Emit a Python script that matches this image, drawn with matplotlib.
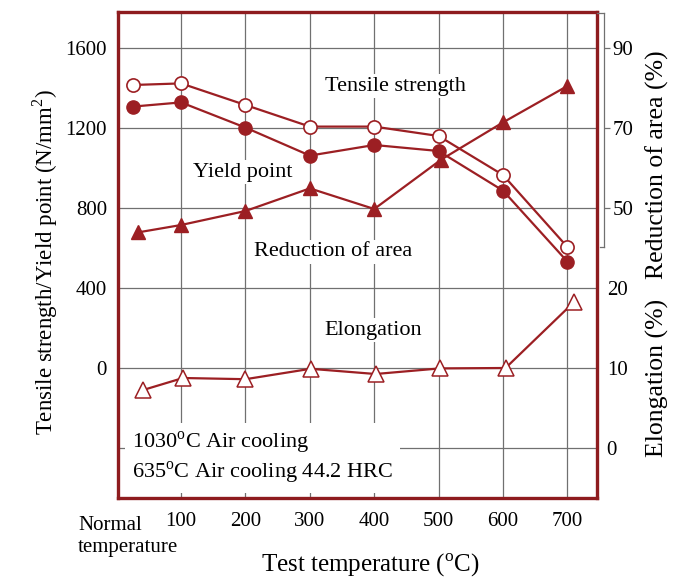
import matplotlib
matplotlib.use("Agg")
import matplotlib.pyplot as plt
import matplotlib.transforms as mtransforms

plt.rcParams['font.family'] = ['Liberation Serif', 'DejaVu Serif']
plt.rcParams['mathtext.fontset'] = 'custom'
plt.rcParams['mathtext.rm'] = 'Liberation Serif'

# ---- data ----
x_strength = [25, 100, 200, 300, 400, 500, 600, 700]
tensile = [1415, 1423, 1315, 1207, 1207, 1160, 965, 605]
yield_pt = [1307, 1328, 1202, 1062, 1115, 1085, 887, 532]
x_reduction = [33, 100, 200, 300, 400, 504, 600, 700]
reduction = [43.9, 45.75, 49.25, 54.9, 49.75, 62.1, 71.4, 80.5]
x_elong = [41, 103, 200, 301, 402, 502, 604, 711]
elongation = [7.25, 8.75, 8.6, 9.9, 9.25, 9.95, 10.0, 18.3]

xtick_vals = [100, 200, 300, 400, 500, 600, 700]
xtick_labels = ['100', '200', '300', '400', '500', '600', '700']
left_ticks = [-400, 0, 400, 800, 1200, 1600]
left_labels = ['', '0', '400', '800', '1200', '1600']
red_ticks = [50, 70, 90]
elong_ticks = [0, 10, 20]

LINE = '#9c1f23'
FRAME = '#8e1c1f'
GRID = '#707070'

fig = plt.figure(figsize=(6.75, 5.85), dpi=100)
ax = fig.add_axes([118/675, 1-498/585, (597-118)/675, (498-12)/585])
ax.set_xlim(2, 746)
ax.set_ylim(-650, 1780)

ax.set_yticks(left_ticks)
ax.set_yticklabels(left_labels)
ax.set_xticks(xtick_vals)
ax.set_xticklabels(xtick_labels)
ax.tick_params(axis='both', length=0, labelsize=15)
ax.tick_params(axis='y', pad=8)
ax.tick_params(axis='x', pad=10)
ax.grid(True, color=GRID, linewidth=0.9)
ax.set_axisbelow(True)
for s in ax.spines.values():
    s.set_color(FRAME)
    s.set_linewidth(2.4)
    s.set_zorder(10)

bx = mtransforms.blended_transform_factory(ax.transData, ax.transAxes)
ax.text(-60, -0.037, 'Normal', transform=bx, ha='left', va='top', fontsize=15)
ax.text(-60, -0.083, 'temperature', transform=bx, ha='left', va='top', fontsize=15)

ax.plot(x_strength, tensile, color=LINE, lw=1.6, marker='o', ms=9.5, mfc='white', mec=LINE, mew=1.2, zorder=5, clip_on=False)
ax.plot(x_strength, yield_pt, color=LINE, lw=1.6, marker='o', ms=9.5, mfc=LINE, mec=LINE, zorder=5, clip_on=False)

bb = dict(facecolor='white', edgecolor='none', pad=2)
ax.text(433, 1410, 'Tensile strength', ha='center', va='center', fontsize=16, bbox=bb, zorder=3)
ax.text(195, 980, 'Yield point', ha='center', va='center', fontsize=16, bbox=bb, zorder=3)
ax.text(336, 580, 'Reduction of area', ha='center', va='center', fontsize=16, bbox=bb, zorder=3)
ax.text(399, 190, 'Elongation', ha='center', va='center', fontsize=16, bbox=bb, zorder=3)
ax.text(24, -450, '1030$^{\\mathrm{o}}$C Air cooling\n635$^{\\mathrm{o}}$C Air cooling 44.2 HRC', ha='left', va='center',
        fontsize=16, linespacing=1.2, bbox=dict(facecolor='white', edgecolor='none', pad=5), zorder=3)

ax.set_xlabel('Test temperature ($^{\\mathrm{o}}$C)', fontsize=18)
ax.xaxis.set_label_coords(0.526, -0.112)

fig.text(45/675, 1-262/585, 'Tensile strength/Yield point (N/mm$^2$)', rotation=90, ha='center', va='center', fontsize=16.5)

# reduction of area axis
ax2 = ax.twinx()
ax2.set_ylim(-22.5, 99)
ax2.set_xlim(ax.get_xlim())
for k in ['top', 'left', 'bottom']:
    ax2.spines[k].set_visible(False)
ax2.spines['right'].set_position(('outward', 5))
ax2.spines['right'].set_bounds(40.25, 98.75)
ax2.spines['right'].set_color(GRID)
ax2.spines['right'].set_linewidth(0.9)
ax2.set_yticks(red_ticks)
ax2.tick_params(axis='y', length=4, width=0.9, color=GRID, labelsize=15, pad=2)
ax2.plot(x_reduction, reduction, color=LINE, lw=1.6, marker='^', ms=10.5, mfc=LINE, mec=LINE, zorder=5, clip_on=False)
bt = mtransforms.blended_transform_factory(ax2.transAxes, ax2.transData)
off = 7 / 479
ax2.plot([1 + off - 0.009, 1 + off], [40.25, 40.25], color=GRID, lw=0.9, transform=bt, clip_on=False)
ax2.plot([1.0, 1 + off], [98.75, 98.75], color=GRID, lw=0.9, transform=bt, clip_on=False)

# elongation axis
ax3 = ax.twinx()
ax3.set_ylim(-6.25, 54.5)
ax3.set_xlim(ax.get_xlim())
for s in ax3.spines.values():
    s.set_visible(False)
ax3.set_yticks(elong_ticks)
ax3.tick_params(axis='y', length=0, labelsize=15, pad=7)
ax3.plot(x_elong, elongation, color=LINE, lw=1.6, marker='^', ms=11, mfc='white', mec=LINE, mew=1.1, zorder=5, clip_on=False)

fig.text(657/675, 1-165/585, 'Reduction of area (%)', rotation=90, ha='center', va='center', fontsize=18.5)
fig.text(657/675, 1-378/585, 'Elongation (%)', rotation=90, ha='center', va='center', fontsize=18.5)

fig.savefig('out.png', dpi=100)
